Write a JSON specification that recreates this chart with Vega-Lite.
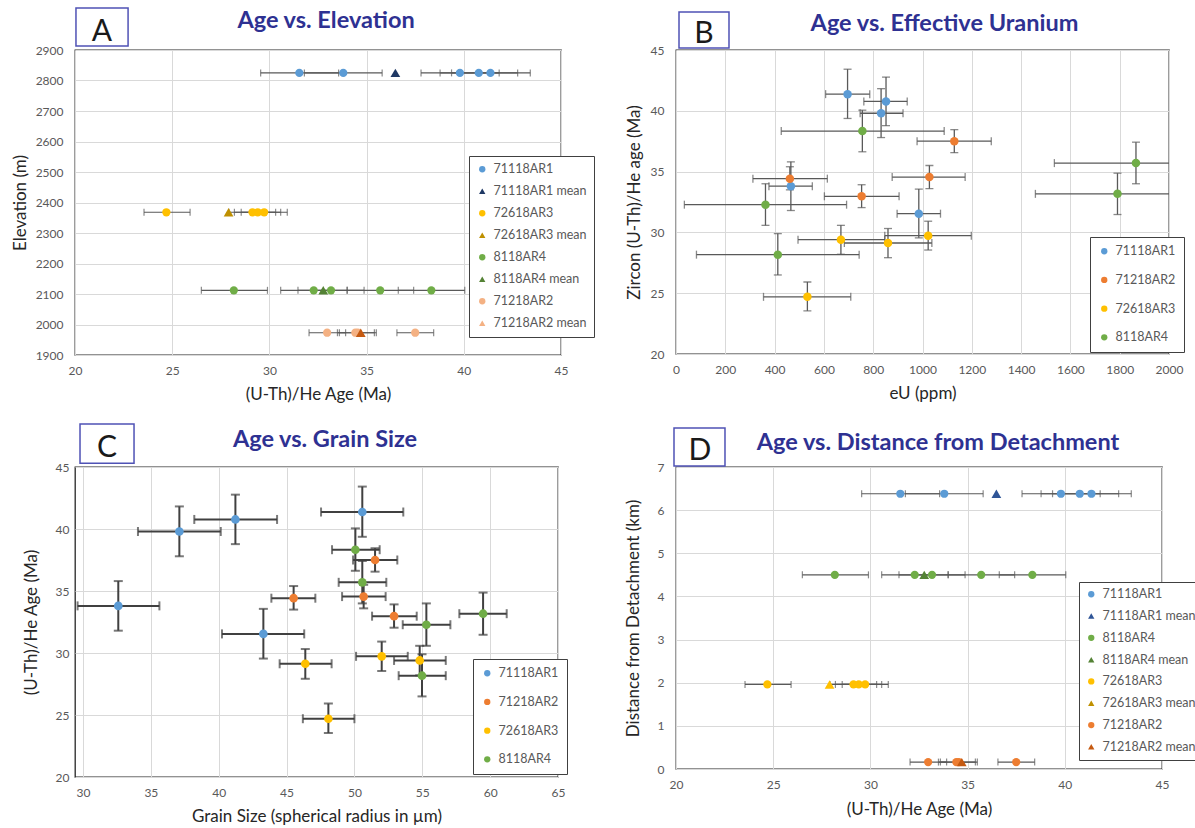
{
"$schema":"https://vega.github.io/schema/vega-lite/v6.json",
"autosize":{"type":"none"},
"padding":{"left":75,"top":50,"right":1120,"bottom":778},
"background":"white",
"datasets":{
"grains":[
{"s":"71118AR1","age":41.37,"aLo":39.37,"aHi":43.42,"eU":696,"eLo":607,"eHi":786,"gs":50.58,"gLo":47.54,"gHi":53.6,"elev":2825,"dist":6.38},
{"s":"71118AR1","age":40.77,"aLo":38.78,"aHi":42.77,"eU":852,"eLo":762,"eHi":938,"gs":41.23,"gLo":38.2,"gHi":44.3,"elev":2825,"dist":6.38},
{"s":"71118AR1","age":39.8,"aLo":37.8,"aHi":41.82,"eU":832,"eLo":747,"eHi":921,"gs":37.1,"gLo":34.05,"gHi":40.15,"elev":2825,"dist":6.38},
{"s":"71118AR1","age":33.8,"aLo":31.8,"aHi":35.8,"eU":466,"eLo":377,"eHi":553,"gs":32.6,"gLo":29.6,"gHi":35.63,"elev":2825,"dist":6.38},
{"s":"71118AR1","age":31.54,"aLo":29.55,"aHi":33.56,"eU":985,"eLo":897,"eHi":1073,"gs":43.29,"gLo":40.24,"gHi":46.3,"elev":2825,"dist":6.38},
{"s":"71218AR2","age":37.5,"aLo":36.56,"aHi":38.45,"eU":1129,"eLo":978,"eHi":1279,"gs":51.52,"gLo":49.9,"gHi":53.16,"elev":1973,"dist":0.16},
{"s":"71218AR2","age":34.55,"aLo":33.6,"aHi":35.5,"eU":1028,"eLo":877,"eHi":1173,"gs":50.68,"gLo":49.09,"gHi":52.3,"elev":1973,"dist":0.16},
{"s":"71218AR2","age":34.42,"aLo":33.5,"aHi":35.4,"eU":462,"eLo":312,"eHi":614,"gs":45.52,"gLo":43.88,"gHi":47.12,"elev":1973,"dist":0.16},
{"s":"71218AR2","age":32.97,"aLo":32.04,"aHi":33.92,"eU":753,"eLo":602,"eHi":905,"gs":52.92,"gLo":51.3,"gHi":54.59,"elev":1973,"dist":0.16},
{"s":"72618AR3","age":24.7,"aLo":23.55,"aHi":25.92,"eU":533,"eLo":355,"eHi":709,"gs":48.08,"gLo":46.2,"gHi":50.0,"elev":2368,"dist":1.96},
{"s":"72618AR3","age":29.4,"aLo":28.2,"aHi":30.58,"eU":669,"eLo":495,"eHi":847,"gs":54.81,"gLo":52.92,"gHi":56.73,"elev":2368,"dist":1.96},
{"s":"72618AR3","age":29.13,"aLo":27.92,"aHi":30.32,"eU":860,"eLo":683,"eHi":1038,"gs":46.38,"gLo":44.49,"gHi":48.32,"elev":2368,"dist":1.96},
{"s":"72618AR3","age":29.73,"aLo":28.55,"aHi":30.92,"eU":1023,"eLo":847,"eHi":1198,"gs":52.01,"gLo":50.12,"gHi":53.93,"elev":2368,"dist":1.96},
{"s":"8118AR4","age":38.33,"aLo":36.63,"aHi":40.05,"eU":756,"eLo":427,"eHi":1088,"gs":50.07,"gLo":48.35,"gHi":51.86,"elev":2112,"dist":4.5},
{"s":"8118AR4","age":35.7,"aLo":34.0,"aHi":37.42,"eU":1866,"eLo":1535,"eHi":2197,"gs":50.58,"gLo":48.84,"gHi":52.35,"elev":2112,"dist":4.5},
{"s":"8118AR4","age":33.17,"aLo":31.47,"aHi":34.87,"eU":1791,"eLo":1458,"eHi":2125,"gs":59.48,"gLo":57.73,"gHi":61.22,"elev":2112,"dist":4.5},
{"s":"8118AR4","age":32.28,"aLo":30.58,"aHi":34.0,"eU":363,"eLo":34,"eHi":692,"gs":55.3,"gLo":53.56,"gHi":57.07,"elev":2112,"dist":4.5},
{"s":"8118AR4","age":28.17,"aLo":26.5,"aHi":29.9,"eU":413,"eLo":83,"eHi":743,"gs":54.98,"gLo":53.26,"gHi":56.73,"elev":2112,"dist":4.5}
],
"means":[
{"s":"71118AR1 mean","age":36.48,"elev":2825,"dist":6.38},
{"s":"72618AR3 mean","age":27.9,"elev":2368,"dist":1.96},
{"s":"8118AR4 mean","age":32.77,"elev":2112,"dist":4.5},
{"s":"71218AR2 mean","age":34.7,"elev":1973,"dist":0.16}
]
},
"config":{
"font":"Lato",
"view":{"stroke":"#262626","strokeWidth":1.3},
"axis":{"labelFont":"Lato","labelFontSize":12,"labelColor":"#595959","labelFlush":false,"labelOverlap":false,"titleFont":"Lato","titleFontSize":17,"titleFontWeight":"normal","titleColor":"#262626","gridColor":"#D9D9D9","domain":false,"ticks":false,"labelPadding":10},
"axisY":{"labelPadding":12},
"title":{"font":"Lato","fontSize":23.5,"fontWeight":"bold","color":"#2E3192","anchor":"middle","baseline":"alphabetic"},
"legend":{"orient":"none","title":null,"labelFont":"Lato","labelFontSize":12.5,"labelColor":"#595959","strokeColor":"#404040","fillColor":"white","symbolSize":40,"symbolStrokeWidth":0,"labelOffset":5}
},
"columns":2,
"align":"none",
"bounds":"flush",
"spacing":{"row":112,"column":115},
"resolve":{"scale":{"color":"independent","shape":"independent","fill":"independent"},"legend":{"color":"independent","shape":"independent","fill":"independent"}},
"concat":[
{
"width":486,"height":305,
"title":{"text":"Age vs. Elevation","dx":8,"offset":-25},
"data":{"name":"grains"},
"layer":[
{"mark":{"type":"rule","color":"#595959","strokeWidth":1.2},
 "encoding":{"x":{"field":"aLo","type":"quantitative","title":"(U-Th)/He Age (Ma)","scale":{"domain":[20,45],"nice":false,"zero":false},"axis":{"values":[20,25,30,35,40,45],"titlePadding":10}},"x2":{"field":"aHi"},
 "y":{"field":"elev","type":"quantitative","title":"Elevation (m)","scale":{"domain":[1900,2900],"nice":false,"zero":false},"axis":{"values":[1900,2000,2100,2200,2300,2400,2500,2600,2700,2800,2900],"tickCount":11,"format":"d","labelOverlap":false,"labelSeparation":0,"labelBound":false,"titlePadding":6}}}},
{"mark":{"type":"tick","orient":"vertical","color":"#595959","size":7,"thickness":1.2},
 "encoding":{"x":{"field":"aLo","type":"quantitative","title":"(U-Th)/He Age (Ma)"},"y":{"field":"elev","type":"quantitative","title":"Elevation (m)","axis":{"values":[1900,2000,2100,2200,2300,2400,2500,2600,2700,2800,2900],"tickCount":11,"format":"d","labelOverlap":false,"labelSeparation":0,"labelBound":false,"titlePadding":6}}}},
{"mark":{"type":"tick","orient":"vertical","color":"#595959","size":7,"thickness":1.2},
 "encoding":{"x":{"field":"aHi","type":"quantitative","title":"(U-Th)/He Age (Ma)"},"y":{"field":"elev","type":"quantitative","title":"Elevation (m)","axis":{"values":[1900,2000,2100,2200,2300,2400,2500,2600,2700,2800,2900],"tickCount":11,"format":"d","labelOverlap":false,"labelSeparation":0,"labelBound":false,"titlePadding":6}}}},
{"mark":{"type":"point","filled":true,"size":68,"opacity":1},
 "encoding":{"x":{"field":"age","type":"quantitative","title":"(U-Th)/He Age (Ma)"},"y":{"field":"elev","type":"quantitative","title":"Elevation (m)","axis":{"values":[1900,2000,2100,2200,2300,2400,2500,2600,2700,2800,2900],"tickCount":11,"format":"d","labelOverlap":false,"labelSeparation":0,"labelBound":false,"titlePadding":6}},
 "color":{"field":"s","type":"nominal","scale":{"domain":["71118AR1","71118AR1 mean","72618AR3","72618AR3 mean","8118AR4","8118AR4 mean","71218AR2","71218AR2 mean"],"range":["#5B9BD5","#1F3864","#FFC000","#BF9000","#70AD47","#548235","#F4B183","#F4B183"]},
  "legend":{"legendX":394,"legendY":106,"padding":7,"rowPadding":9}},
 "shape":{"field":"s","type":"nominal","scale":{"domain":["71118AR1","71118AR1 mean","72618AR3","72618AR3 mean","8118AR4","8118AR4 mean","71218AR2","71218AR2 mean"],"range":["circle","triangle-up","circle","triangle-up","circle","triangle-up","circle","triangle-up"]}}}},
{"data":{"name":"means"},"mark":{"type":"point","filled":true,"size":95,"opacity":1},
 "encoding":{"x":{"field":"age","type":"quantitative","title":"(U-Th)/He Age (Ma)"},"y":{"field":"elev","type":"quantitative","title":"Elevation (m)","axis":{"values":[1900,2000,2100,2200,2300,2400,2500,2600,2700,2800,2900],"tickCount":11,"format":"d","labelOverlap":false,"labelSeparation":0,"labelBound":false,"titlePadding":6}},
 "shape":{"field":"s","type":"nominal"},
 "fill":{"field":"s","type":"nominal","scale":{"domain":["71118AR1 mean","72618AR3 mean","8118AR4 mean","71218AR2 mean"],"range":["#1F3864","#BF9000","#548235","#C55A11"]},"legend":null}}},
{"data":{"values":[{"t":"A"}]},"mark":{"type":"rect","fillOpacity":0,"stroke":"#4F52B5","strokeWidth":1.5},
 "encoding":{"x":{"datum":20.05},"x2":{"datum":22.73},"y":{"datum":3037.7,"title":"Elevation (m)","axis":{"values":[1900,2000,2100,2200,2300,2400,2500,2600,2700,2800,2900],"tickCount":11,"format":"d","labelOverlap":false,"labelSeparation":0,"labelBound":false,"titlePadding":6}},"y2":{"datum":2913.1}}},
{"data":{"values":[{"t":"A"}]},"mark":{"type":"text","fontSize":30,"font":"Lato","baseline":"alphabetic","align":"center","color":"#1a1a1a"},
 "encoding":{"x":{"datum":21.39},"y":{"datum":2929.5,"title":"Elevation (m)","axis":{"values":[1900,2000,2100,2200,2300,2400,2500,2600,2700,2800,2900],"tickCount":11,"format":"d","labelOverlap":false,"labelSeparation":0,"labelBound":false,"titlePadding":6}},"text":{"field":"t"}}}
]
},
{
"width":493,"height":304,
"title":{"text":"Age vs. Effective Uranium","dx":22,"offset":-24},
"data":{"name":"grains"},
"layer":[
{"mark":{"type":"rule","color":"#595959","strokeWidth":1.3,"clip":true},
 "encoding":{"x":{"field":"eLo","type":"quantitative","title":"eU (ppm)","scale":{"domain":[0,2000],"nice":false},"axis":{"values":[0,200,400,600,800,1000,1200,1400,1600,1800,2000],"format":"d","titlePadding":10}},"x2":{"field":"eHi"},
 "y":{"field":"age","type":"quantitative","title":"Zircon (U-Th)/He age (Ma)","scale":{"domain":[20,45],"nice":false,"zero":false},"axis":{"values":[20,25,30,35,40,45],"titlePadding":7}}}},
{"mark":{"type":"rule","color":"#595959","strokeWidth":1.3,"clip":true},
 "encoding":{"x":{"field":"eU","type":"quantitative","title":"eU (ppm)"},"y":{"field":"aLo","type":"quantitative","title":"Zircon (U-Th)/He age (Ma)"},"y2":{"field":"aHi"}}},
{"mark":{"type":"tick","orient":"vertical","color":"#595959","size":8,"thickness":1.3,"clip":true},
 "encoding":{"x":{"field":"eLo","type":"quantitative","title":"eU (ppm)"},"y":{"field":"age","type":"quantitative","title":"Zircon (U-Th)/He age (Ma)"}}},
{"mark":{"type":"tick","orient":"vertical","color":"#595959","size":8,"thickness":1.3,"clip":true},
 "encoding":{"x":{"field":"eHi","type":"quantitative","title":"eU (ppm)"},"y":{"field":"age","type":"quantitative","title":"Zircon (U-Th)/He age (Ma)"}}},
{"mark":{"type":"tick","orient":"horizontal","color":"#595959","size":8,"thickness":1.3,"clip":true},
 "encoding":{"x":{"field":"eU","type":"quantitative","title":"eU (ppm)"},"y":{"field":"aLo","type":"quantitative","title":"Zircon (U-Th)/He age (Ma)"}}},
{"mark":{"type":"tick","orient":"horizontal","color":"#595959","size":8,"thickness":1.3,"clip":true},
 "encoding":{"x":{"field":"eU","type":"quantitative","title":"eU (ppm)"},"y":{"field":"aHi","type":"quantitative","title":"Zircon (U-Th)/He age (Ma)"}}},
{"mark":{"type":"point","filled":true,"size":72,"opacity":1},
 "encoding":{"x":{"field":"eU","type":"quantitative","title":"eU (ppm)"},"y":{"field":"age","type":"quantitative","title":"Zircon (U-Th)/He age (Ma)"},
 "color":{"field":"s","type":"nominal","scale":{"domain":["71118AR1","71218AR2","72618AR3","8118AR4"],"range":["#5B9BD5","#ED7D31","#FFC000","#70AD47"]},
  "legend":{"legendX":414,"legendY":187,"padding":8,"rowPadding":15.7}}}},
{"data":{"values":[{"t":"B"}]},"mark":{"type":"rect","fillOpacity":0,"stroke":"#4F52B5","strokeWidth":1.5},
 "encoding":{"x":{"datum":12.2},"x2":{"datum":215.0},"y":{"datum":48.125},"y2":{"datum":45.164}}},
{"data":{"values":[{"t":"B"}]},"mark":{"type":"text","fontSize":30,"font":"Lato","baseline":"alphabetic","align":"center","color":"#1a1a1a"},
 "encoding":{"x":{"datum":113.6},"y":{"datum":45.576},"text":{"field":"t"}}}
]
},
{
"width":483,"height":310,
"title":{"text":"Age vs. Grain Size","dx":8.5,"offset":-28},
"data":{"name":"grains"},
"layer":[
{"mark":{"type":"rule","color":"#404040","strokeWidth":2,"clip":true},
 "encoding":{"x":{"field":"gLo","type":"quantitative","title":"Grain Size (spherical radius in µm)","scale":{"domain":[29.4105,65],"nice":false,"zero":false},"axis":{"values":[30,35,40,45,50,55,60,65],"titlePadding":10}},"x2":{"field":"gHi"},
 "y":{"field":"age","type":"quantitative","title":"(U-Th)/He Age (Ma)","scale":{"domain":[20,45],"nice":false,"zero":false},"axis":{"values":[20,25,30,35,40,45],"labelPadding":6,"titlePadding":15}}}},
{"mark":{"type":"rule","color":"#404040","strokeWidth":2,"clip":true},
 "encoding":{"x":{"field":"gs","type":"quantitative","title":"Grain Size (spherical radius in µm)"},"y":{"field":"aLo","type":"quantitative","title":"(U-Th)/He Age (Ma)"},"y2":{"field":"aHi"}}},
{"mark":{"type":"tick","orient":"vertical","color":"#404040","size":9,"thickness":2,"clip":true},
 "encoding":{"x":{"field":"gLo","type":"quantitative","title":"Grain Size (spherical radius in µm)"},"y":{"field":"age","type":"quantitative","title":"(U-Th)/He Age (Ma)"}}},
{"mark":{"type":"tick","orient":"vertical","color":"#404040","size":9,"thickness":2,"clip":true},
 "encoding":{"x":{"field":"gHi","type":"quantitative","title":"Grain Size (spherical radius in µm)"},"y":{"field":"age","type":"quantitative","title":"(U-Th)/He Age (Ma)"}}},
{"mark":{"type":"tick","orient":"horizontal","color":"#404040","size":9,"thickness":2,"clip":true},
 "encoding":{"x":{"field":"gs","type":"quantitative","title":"Grain Size (spherical radius in µm)"},"y":{"field":"aLo","type":"quantitative","title":"(U-Th)/He Age (Ma)"}}},
{"mark":{"type":"tick","orient":"horizontal","color":"#404040","size":9,"thickness":2,"clip":true},
 "encoding":{"x":{"field":"gs","type":"quantitative","title":"Grain Size (spherical radius in µm)"},"y":{"field":"aHi","type":"quantitative","title":"(U-Th)/He Age (Ma)"}}},
{"mark":{"type":"point","filled":true,"size":75,"opacity":1},
 "encoding":{"x":{"field":"gs","type":"quantitative","title":"Grain Size (spherical radius in µm)"},"y":{"field":"age","type":"quantitative","title":"(U-Th)/He Age (Ma)"},
 "color":{"field":"s","type":"nominal","scale":{"domain":["71118AR1","71218AR2","72618AR3","8118AR4"],"range":["#5B9BD5","#ED7D31","#FFC000","#70AD47"]},
  "legend":{"legendX":398,"legendY":192,"padding":8,"rowPadding":15.7}}}},
{"data":{"values":[{"t":"C"}]},"mark":{"type":"rect","fillOpacity":0,"stroke":"#4F52B5","strokeWidth":1.5},
 "encoding":{"x":{"datum":29.78},"x2":{"datum":33.76},"y":{"datum":48.47},"y2":{"datum":45.3}}},
{"data":{"values":[{"t":"C"}]},"mark":{"type":"text","fontSize":30,"font":"Lato","baseline":"alphabetic","align":"center","color":"#1a1a1a"},
 "encoding":{"x":{"datum":31.77},"y":{"datum":45.81},"text":{"field":"t"}}}
]
},
{
"width":486,"height":302,
"title":{"text":"Age vs. Distance from Detachment","dx":19,"offset":-27},
"data":{"name":"grains"},
"layer":[
{"mark":{"type":"rule","color":"#595959","strokeWidth":1.2},
 "encoding":{"x":{"field":"aLo","type":"quantitative","title":"(U-Th)/He Age (Ma)","scale":{"domain":[20,45],"nice":false,"zero":false},"axis":{"values":[20,25,30,35,40,45],"titlePadding":11}},"x2":{"field":"aHi"},
 "y":{"field":"dist","type":"quantitative","title":"Distance from Detachment (km)","scale":{"domain":[0,7],"nice":false},"axis":{"values":[0,1,2,3,4,5,6,7],"titlePadding":15}}}},
{"mark":{"type":"tick","orient":"vertical","color":"#595959","size":7,"thickness":1.2},
 "encoding":{"x":{"field":"aLo","type":"quantitative","title":"(U-Th)/He Age (Ma)"},"y":{"field":"dist","type":"quantitative","title":"Distance from Detachment (km)"}}},
{"mark":{"type":"tick","orient":"vertical","color":"#595959","size":7,"thickness":1.2},
 "encoding":{"x":{"field":"aHi","type":"quantitative","title":"(U-Th)/He Age (Ma)"},"y":{"field":"dist","type":"quantitative","title":"Distance from Detachment (km)"}}},
{"mark":{"type":"point","filled":true,"size":68,"opacity":1},
 "encoding":{"x":{"field":"age","type":"quantitative","title":"(U-Th)/He Age (Ma)"},"y":{"field":"dist","type":"quantitative","title":"Distance from Detachment (km)"},
 "color":{"field":"s","type":"nominal","scale":{"domain":["71118AR1","71118AR1 mean","8118AR4","8118AR4 mean","72618AR3","72618AR3 mean","71218AR2","71218AR2 mean"],"range":["#5B9BD5","#2F5597","#70AD47","#548235","#FFC000","#BF9000","#ED7D31","#C55A11"]},
  "legend":{"legendX":403,"legendY":115,"padding":6,"rowPadding":8.8}},
 "shape":{"field":"s","type":"nominal","scale":{"domain":["71118AR1","71118AR1 mean","8118AR4","8118AR4 mean","72618AR3","72618AR3 mean","71218AR2","71218AR2 mean"],"range":["circle","triangle-up","circle","triangle-up","circle","triangle-up","circle","triangle-up"]}}}},
{"data":{"name":"means"},"mark":{"type":"point","filled":true,"size":95,"opacity":1},
 "encoding":{"x":{"field":"age","type":"quantitative","title":"(U-Th)/He Age (Ma)"},"y":{"field":"dist","type":"quantitative","title":"Distance from Detachment (km)"},
 "shape":{"field":"s","type":"nominal"},
 "fill":{"field":"s","type":"nominal","scale":{"domain":["71118AR1 mean","72618AR3 mean","8118AR4 mean","71218AR2 mean"],"range":["#2F5597","#FFC000","#548235","#C55A11"]},"legend":null}}},
{"data":{"values":[{"t":"D"}]},"mark":{"type":"rect","fillOpacity":0,"stroke":"#4F52B5","strokeWidth":1.5},
 "encoding":{"x":{"datum":19.897},"x2":{"datum":22.52},"y":{"datum":7.905},"y2":{"datum":7.024}}},
{"data":{"values":[{"t":"D"}]},"mark":{"type":"text","fontSize":30,"font":"Lato","baseline":"alphabetic","align":"center","color":"#1a1a1a"},
 "encoding":{"x":{"datum":21.235},"y":{"datum":7.163},"text":{"field":"t"}}}
]
}
]
}
